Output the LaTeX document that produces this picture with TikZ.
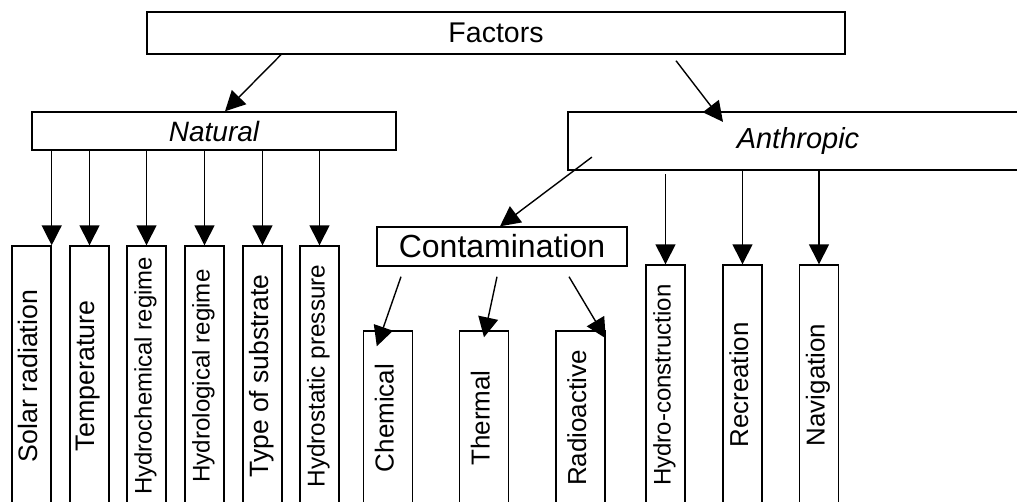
\documentclass[tikz,border=0pt]{standalone}
\usepackage{fontspec}
\setmainfont{Liberation Sans}
\usepackage{graphicx}
\usetikzlibrary{arrows.meta}

\tikzset{
  box/.style={draw, line width=1.4pt, inner sep=0pt},
  tallbox/.style={box, minimum width=39pt},
  arr/.style={line width=1.4pt, -{Triangle[length=20pt,width=20pt]}},
}
\newcommand{\fsz}[1]{\fontsize{#1}{#1}\selectfont}

\begin{document}
\begin{tikzpicture}[x=1pt,y=-1pt]
  \useasboundingbox (0,0) rectangle (1017,501);
  \clip (0,0) rectangle (1017,501);

  % Top levels
  \node[box, minimum width=698pt, minimum height=42pt] (factors) at (496,33) {\fsz{28.5}Factors};
  \node[box, minimum width=364pt, minimum height=38pt] (natural) at (214,131) {\fsz{28}\itshape Natural};
  \node[box, line width=2.2pt, minimum width=460pt, minimum height=58pt] (anthropic) at (798,141) {\fsz{29}\itshape Anthropic};
  \node[box, minimum width=250pt, minimum height=39pt] (contam) at (502,246.5) {\fsz{32}Contamination};

  % Natural factors
  \foreach \x/\nm/\fs/\txt in {31.5/solar/26.7/Solar radiation, 89.5/temp/26.8/Temperature,
      146.5/hchem/23.9/Hydrochemical regime, 204.5/hlog/24.1/Hydrological regime,
      262.5/subst/26.5/Type of substrate, 319.5/hstat/24.3/Hydrostatic pressure}
    \node[tallbox, minimum height=260pt] (\nm) at (\x,376) {\rotatebox{90}{\fsz{\fs}\strut\txt}};

  % Contamination
  \foreach \x/\nm/\txt in {388/chem/Chemical, 484/therm/Thermal, 580.5/radio/Radioactive}
    \node[box, minimum width=49pt, minimum height=174pt] (\nm) at (\x,418) {\rotatebox{90}{\fsz{26}\strut\txt}};

  % Anthropic factors
  \foreach \x/\nm/\fs/\txt in {665.5/hconst/24/Hydro-construction, 742.5/recr/25.9/Recreation, 819/navig/25.9/Navigation}
    \node[tallbox, minimum height=240pt] (\nm) at (\x,385) {\rotatebox{90}{\fsz{\fs}\strut\txt}};

  % Arrows
  \draw[arr] ([xshift=-215pt]factors.south) -- ([xshift=11pt]natural.north);
  \draw[arr] ([xshift=180pt,yshift=-6pt]factors.south) -- ([xshift=-75pt,yshift=-11pt]anthropic.north);
  \draw[arr] ([xshift=25pt,yshift=14pt]anthropic.south west) -- ([xshift=-2pt]contam.north);

  \draw[arr] (natural.south -| solar.north east) -- (solar.north east);
  \foreach \nm in {temp, hchem, hlog, subst, hstat}
    \draw[arr] (natural.south -| \nm.north) -- (\nm.north);

  \draw[arr] ([xshift=-101pt,yshift=-10pt]contam.south) -- ([xshift=14pt,yshift=-16pt]chem.north west);
  \draw[arr] ([xshift=-5pt,yshift=-10pt]contam.south) -- ([yshift=-7pt]therm.north);
  \draw[arr] ([xshift=67pt,yshift=-10pt]contam.south) -- ([yshift=-8pt]radio.north east);

  \draw[arr] ([yshift=-3pt]anthropic.south -| hconst.north) -- (hconst.north);
  \foreach \nm in {recr, navig}
    \draw[arr] (anthropic.south -| \nm.north) -- (\nm.north);
\end{tikzpicture}
\end{document}
